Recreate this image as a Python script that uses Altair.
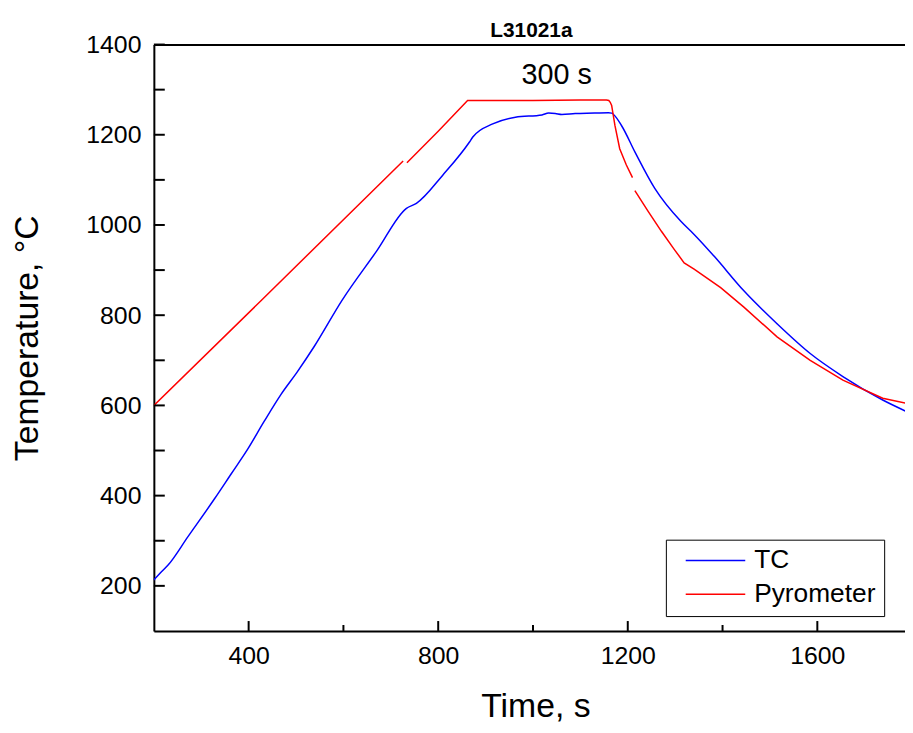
import altair as alt
import pandas as pd

# ---- data ----
tc_t = [200, 213, 230, 272, 328, 363, 398, 433, 468, 503, 538, 597, 670, 733, 754, 810, 866,
        873, 915, 963, 1019, 1033, 1047, 1061, 1089, 1130, 1159, 1166, 1187, 1215, 1257,
        1312, 1340, 1382, 1445, 1515, 1585, 1654, 1738, 1787]
tc_T = [213, 228, 246, 309, 393, 448, 503, 565, 624, 675, 730, 833, 942, 1037, 1048, 1111, 1184,
        1195, 1224, 1239, 1244, 1248, 1247, 1245, 1247, 1248, 1249, 1248, 1220, 1162, 1081,
        1008, 979, 931, 854, 781, 715, 664, 612, 587]

pyro1_t = [199, 426, 726]
pyro1_T = [599, 832, 1142]
pyro2_t = [734, 800, 862, 900, 1000, 1100, 1155, 1160, 1163, 1166, 1173, 1183, 1197, 1210]
pyro2_T = [1138, 1208, 1276, 1276, 1276, 1277, 1277, 1276, 1272, 1265, 1220, 1169, 1133, 1105]
pyro3_t = [1215, 1243, 1271, 1298, 1319, 1340, 1396, 1445, 1515, 1585, 1654, 1738, 1787]
pyro3_T = [1076, 1030, 986, 946, 916, 902, 861, 818, 752, 700, 656, 616, 605]

series_names = ["TC", "Pyrometer"]
series_colors = ["#0000ff", "#ff0000"]

x_major = [400, 800, 1200, 1600]
x_minor = [600, 1000, 1400]
y_major = [200, 400, 600, 800, 1000, 1200, 1400]
y_minor = [300, 500, 700, 900, 1100, 1300]

title_text = ["L31021a"]
note_text = ["300 s"]
note_t = [1050]
note_T = [1312]

# ---- tables ----
tc_df = pd.DataFrame({"t": tc_t, "T": tc_T, "series": "TC", "seg": "tc"})
rows = []
for seg, (ts, Ts) in enumerate([(pyro1_t, pyro1_T), (pyro2_t, pyro2_T), (pyro3_t, pyro3_T)]):
    for t, T in zip(ts, Ts):
        rows.append({"t": t, "T": T, "series": "Pyrometer", "seg": f"p{seg}"})
py_df = pd.DataFrame(rows)

FONT = "Liberation Sans"
W, H = 757, 591
xscale = alt.Scale(domain=[200, 1785], nice=False, zero=False)
yscale = alt.Scale(domain=[100, 1400], nice=False, zero=False)

x_axis = alt.Axis(values=x_major, format="d", ticks=False, grid=False,
                  domainColor="black", domainWidth=2, labelFontSize=25,
                  labelFont=FONT, labelColor="black", labelPadding=13,
                  title="Time, s", titleFontSize=34, titleFont=FONT,
                  titleFontWeight="normal", titleColor="black",
                  titleBaseline="alphabetic", titleY=86, titleX=W / 2 + 6)
y_axis = alt.Axis(values=y_major, format="d", ticks=False, grid=False,
                  domainColor="black", domainWidth=2, labelFontSize=25,
                  labelFont=FONT, labelColor="black", labelPadding=13,
                  title="Temperature, °C", titleFontSize=34,
                  titleFont=FONT, titleFontWeight="normal", titleColor="black",
                  titleAngle=-90, titleBaseline="middle", titleX=-127, titleY=H / 2)
legend = alt.Legend(orient="none", legendX=516, legendY=499,
                    direction="vertical", title=None,
                    symbolType="stroke", symbolSize=3600,
                    symbolStrokeWidth=1.5, clipHeight=26,
                    labelFontSize=26.5, labelFont=FONT, labelColor="black",
                    labelOffset=8, symbolOffset=11, rowPadding=7,
                    padding=8, strokeColor="black", fillColor="white")
color = alt.Color("series:N", scale=alt.Scale(domain=series_names, range=series_colors),
                  legend=legend)

tc_line = alt.Chart(tc_df).mark_line(strokeWidth=1.5, clip=True, interpolate="monotone").encode(
    x=alt.X("t:Q", scale=xscale, axis=x_axis),
    y=alt.Y("T:Q", scale=yscale, axis=y_axis),
    color=color,
)
py_line = alt.Chart(py_df).mark_line(strokeWidth=1.5, clip=True).encode(
    x=alt.X("t:Q", scale=xscale, axis=None),
    y=alt.Y("T:Q", scale=yscale, axis=None),
    color=color,
    detail="seg:N",
)

xmaj_df = pd.DataFrame({"v": x_major})
xmin_df = pd.DataFrame({"v": x_minor})
ymaj_df = pd.DataFrame({"v": y_major})
ymin_df = pd.DataFrame({"v": y_minor})

top_axis = alt.Axis(orient="top", labels=False, ticks=False, grid=False,
                    domainColor="black", domainWidth=2, minExtent=0, maxExtent=0)

xmaj_ticks = alt.Chart(xmaj_df).mark_rule(color="black", strokeWidth=2).encode(
    x=alt.X("v:Q", scale=xscale, axis=top_axis, title=None),
    y=alt.value(H), y2=alt.value(H - 10))
xmin_ticks = alt.Chart(xmin_df).mark_rule(color="black", strokeWidth=2).encode(
    x=alt.X("v:Q", scale=xscale, axis=None),
    y=alt.value(H), y2=alt.value(H - 6))
ymaj_ticks = alt.Chart(ymaj_df).mark_rule(color="black", strokeWidth=2).encode(
    y=alt.Y("v:Q", scale=yscale, axis=None),
    x=alt.value(0), x2=alt.value(11))
ymin_ticks = alt.Chart(ymin_df).mark_rule(color="black", strokeWidth=2).encode(
    y=alt.Y("v:Q", scale=yscale, axis=None),
    x=alt.value(0), x2=alt.value(11))

note = alt.Chart(pd.DataFrame({"t": note_t, "T": note_T, "label": note_text})).mark_text(
    fontSize=29, font=FONT, color="black", align="center", baseline="alphabetic").encode(
    x=alt.X("t:Q", scale=xscale, axis=None),
    y=alt.Y("T:Q", scale=yscale, axis=None),
    text="label:N")

title = alt.Chart(pd.DataFrame({"label": title_text})).mark_text(
    fontSize=21, font=FONT, fontWeight="bold", color="black", align="center",
    baseline="alphabetic").encode(
    x=alt.value(W / 2 + 2), y=alt.value(-8), text="label:N")

chart = alt.layer(tc_line, py_line, xmaj_ticks, xmin_ticks, ymaj_ticks, ymin_ticks, note, title
).resolve_axis(
    x="independent", y="independent"
).properties(
    width=W, height=H,
    autosize=alt.AutoSizeParams(type="none"),
    padding={"left": 147, "top": 34, "right": 0, "bottom": 99},
).configure_view(stroke="transparent").configure(background="white")

chart.save("out.html", embed_options={"renderer": "svg", "actions": False})
